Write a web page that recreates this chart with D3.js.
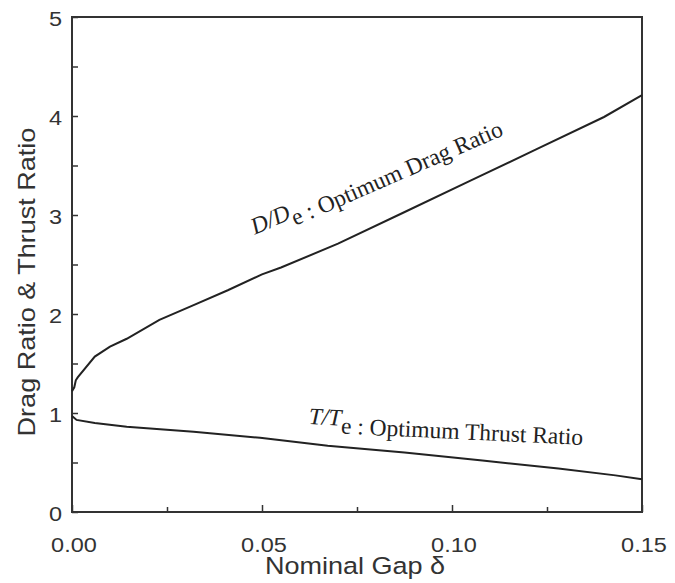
<!DOCTYPE html>
<html>
<head>
<meta charset="utf-8">
<script src="https://cdn.jsdelivr.net/npm/d3@7"></script>
<style>
  body { margin: 0; background: #fff; }
  svg { display: block; }
</style>
</head>
<body>
<svg id="chart" width="675" height="583"></svg>
<script>
// values
const dragGap = [0, 0.0006, 0.001, 0.0015, 0.006, 0.010, 0.0144, 0.023, 0.032, 0.041, 0.050, 0.055, 0.070, 0.087, 0.105, 0.122, 0.140, 0.150];
const dragRatio = [1.22, 1.26, 1.33, 1.36, 1.57, 1.67, 1.75, 1.94, 2.09, 2.24, 2.40, 2.47, 2.71, 3.02, 3.35, 3.66, 3.99, 4.21];

const thrustGap = [0, 0.0012, 0.006, 0.0144, 0.032, 0.0495, 0.0673, 0.0875, 0.108, 0.128, 0.143, 0.150];
const thrustRatio = [0.97, 0.93, 0.90, 0.86, 0.81, 0.75, 0.67, 0.60, 0.52, 0.44, 0.37, 0.33];

const xTicks = [0, 0.05, 0.10, 0.15];
const xMinor = [0.025, 0.075, 0.125];
const yTicks = [0, 1, 2, 3, 4, 5];
const yMinor = [0.5, 1.5, 2.5, 3.5, 4.5];

const svg = d3.select("#chart");
const plotLeft = 72, plotRight = 642, plotTop = 17, plotBottom = 512;

const x = d3.scaleLinear([0, 0.15], [plotLeft, plotRight]);
const y = d3.scaleLinear([0, 5], [plotBottom, plotTop]);

const axisColor = "#333";
const sans = "'Liberation Sans', Arial, sans-serif";
const serif = "'Liberation Serif', 'Times New Roman', serif";

// frame
svg.append("rect")
  .attr("x", plotLeft).attr("y", plotTop)
  .attr("width", plotRight - plotLeft).attr("height", plotBottom - plotTop)
  .attr("fill", "none").attr("stroke", axisColor).attr("stroke-width", 2);

// ticks pointing inward
svg.append("g").attr("transform", `translate(0,${plotBottom})`)
  .call(d3.axisTop(x).tickValues(xTicks).tickSize(7).tickFormat(""))
  .call(g => g.select(".domain").remove())
  .call(g => g.selectAll("line").attr("stroke", axisColor).attr("stroke-width", 1.5));
svg.append("g").attr("transform", `translate(0,${plotBottom})`)
  .call(d3.axisTop(x).tickValues(xMinor).tickSize(5).tickFormat(""))
  .call(g => g.select(".domain").remove())
  .call(g => g.selectAll("line").attr("stroke", axisColor).attr("stroke-width", 1.5));

svg.append("g").attr("transform", `translate(${plotLeft},0)`)
  .call(d3.axisRight(y).tickValues(yTicks.concat(yMinor)).tickSize(6).tickFormat(""))
  .call(g => g.select(".domain").remove())
  .call(g => g.selectAll("line").attr("stroke", axisColor).attr("stroke-width", 1.5));

// tick labels (the scan's lettering is a little wider than Arial)
svg.append("g").selectAll("text").data(xTicks).join("text")
  .attr("transform", d => `translate(${x(d) + 2},552) scale(1.12,1)`)
  .attr("text-anchor", "middle")
  .attr("font-family", sans).attr("font-size", 21).attr("fill", axisColor)
  .text(d3.format(".2f"));

svg.append("g").selectAll("text").data(yTicks).join("text")
  .attr("transform", d => `translate(62,${y(d) + 3}) scale(1.12,1)`)
  .attr("text-anchor", "end").attr("dominant-baseline", "middle")
  .attr("font-family", sans).attr("font-size", 21).attr("fill", axisColor)
  .text(d => d);

// axis titles
svg.append("text")
  .attr("transform", "translate(355,574) scale(1.15,1)")
  .attr("text-anchor", "middle")
  .attr("font-family", sans).attr("font-size", 23.5).attr("fill", axisColor)
  .text("Nominal Gap δ");

svg.append("text")
  .attr("transform", "translate(35,282) rotate(-90) scale(1.15,1)")
  .attr("text-anchor", "middle")
  .attr("font-family", sans).attr("font-size", 23.5).attr("fill", axisColor)
  .text("Drag Ratio & Thrust Ratio");

// curves
const line = d3.line().x(d => x(d[0])).y(d => y(d[1]));

svg.append("path")
  .datum(d3.zip(dragGap, dragRatio))
  .attr("d", line)
  .attr("fill", "none").attr("stroke", "#222").attr("stroke-width", 2);

svg.append("path")
  .datum(d3.zip(thrustGap, thrustRatio))
  .attr("d", line)
  .attr("fill", "none").attr("stroke", "#222").attr("stroke-width", 2);

// curve labels
function curveLabel(tx, ty, angle, sym) {
  const t = svg.append("text")
    .attr("transform", `translate(${tx},${ty}) rotate(${angle})`)
    .attr("font-family", serif).attr("font-size", 23.5).attr("fill", "#222");
  t.append("tspan").attr("font-style", "italic").attr("dy", -8).text(`${sym}/${sym}`);
  t.append("tspan").attr("dy", 8).text("e");
  return t;
}

curveLabel(258, 242, -23.5, "D").append("tspan").text(" : Optimum Drag Ratio");
curveLabel(308, 432, 2.7, "T").append("tspan").text(" : Optimum Thrust Ratio");
</script>
</body>
</html>
